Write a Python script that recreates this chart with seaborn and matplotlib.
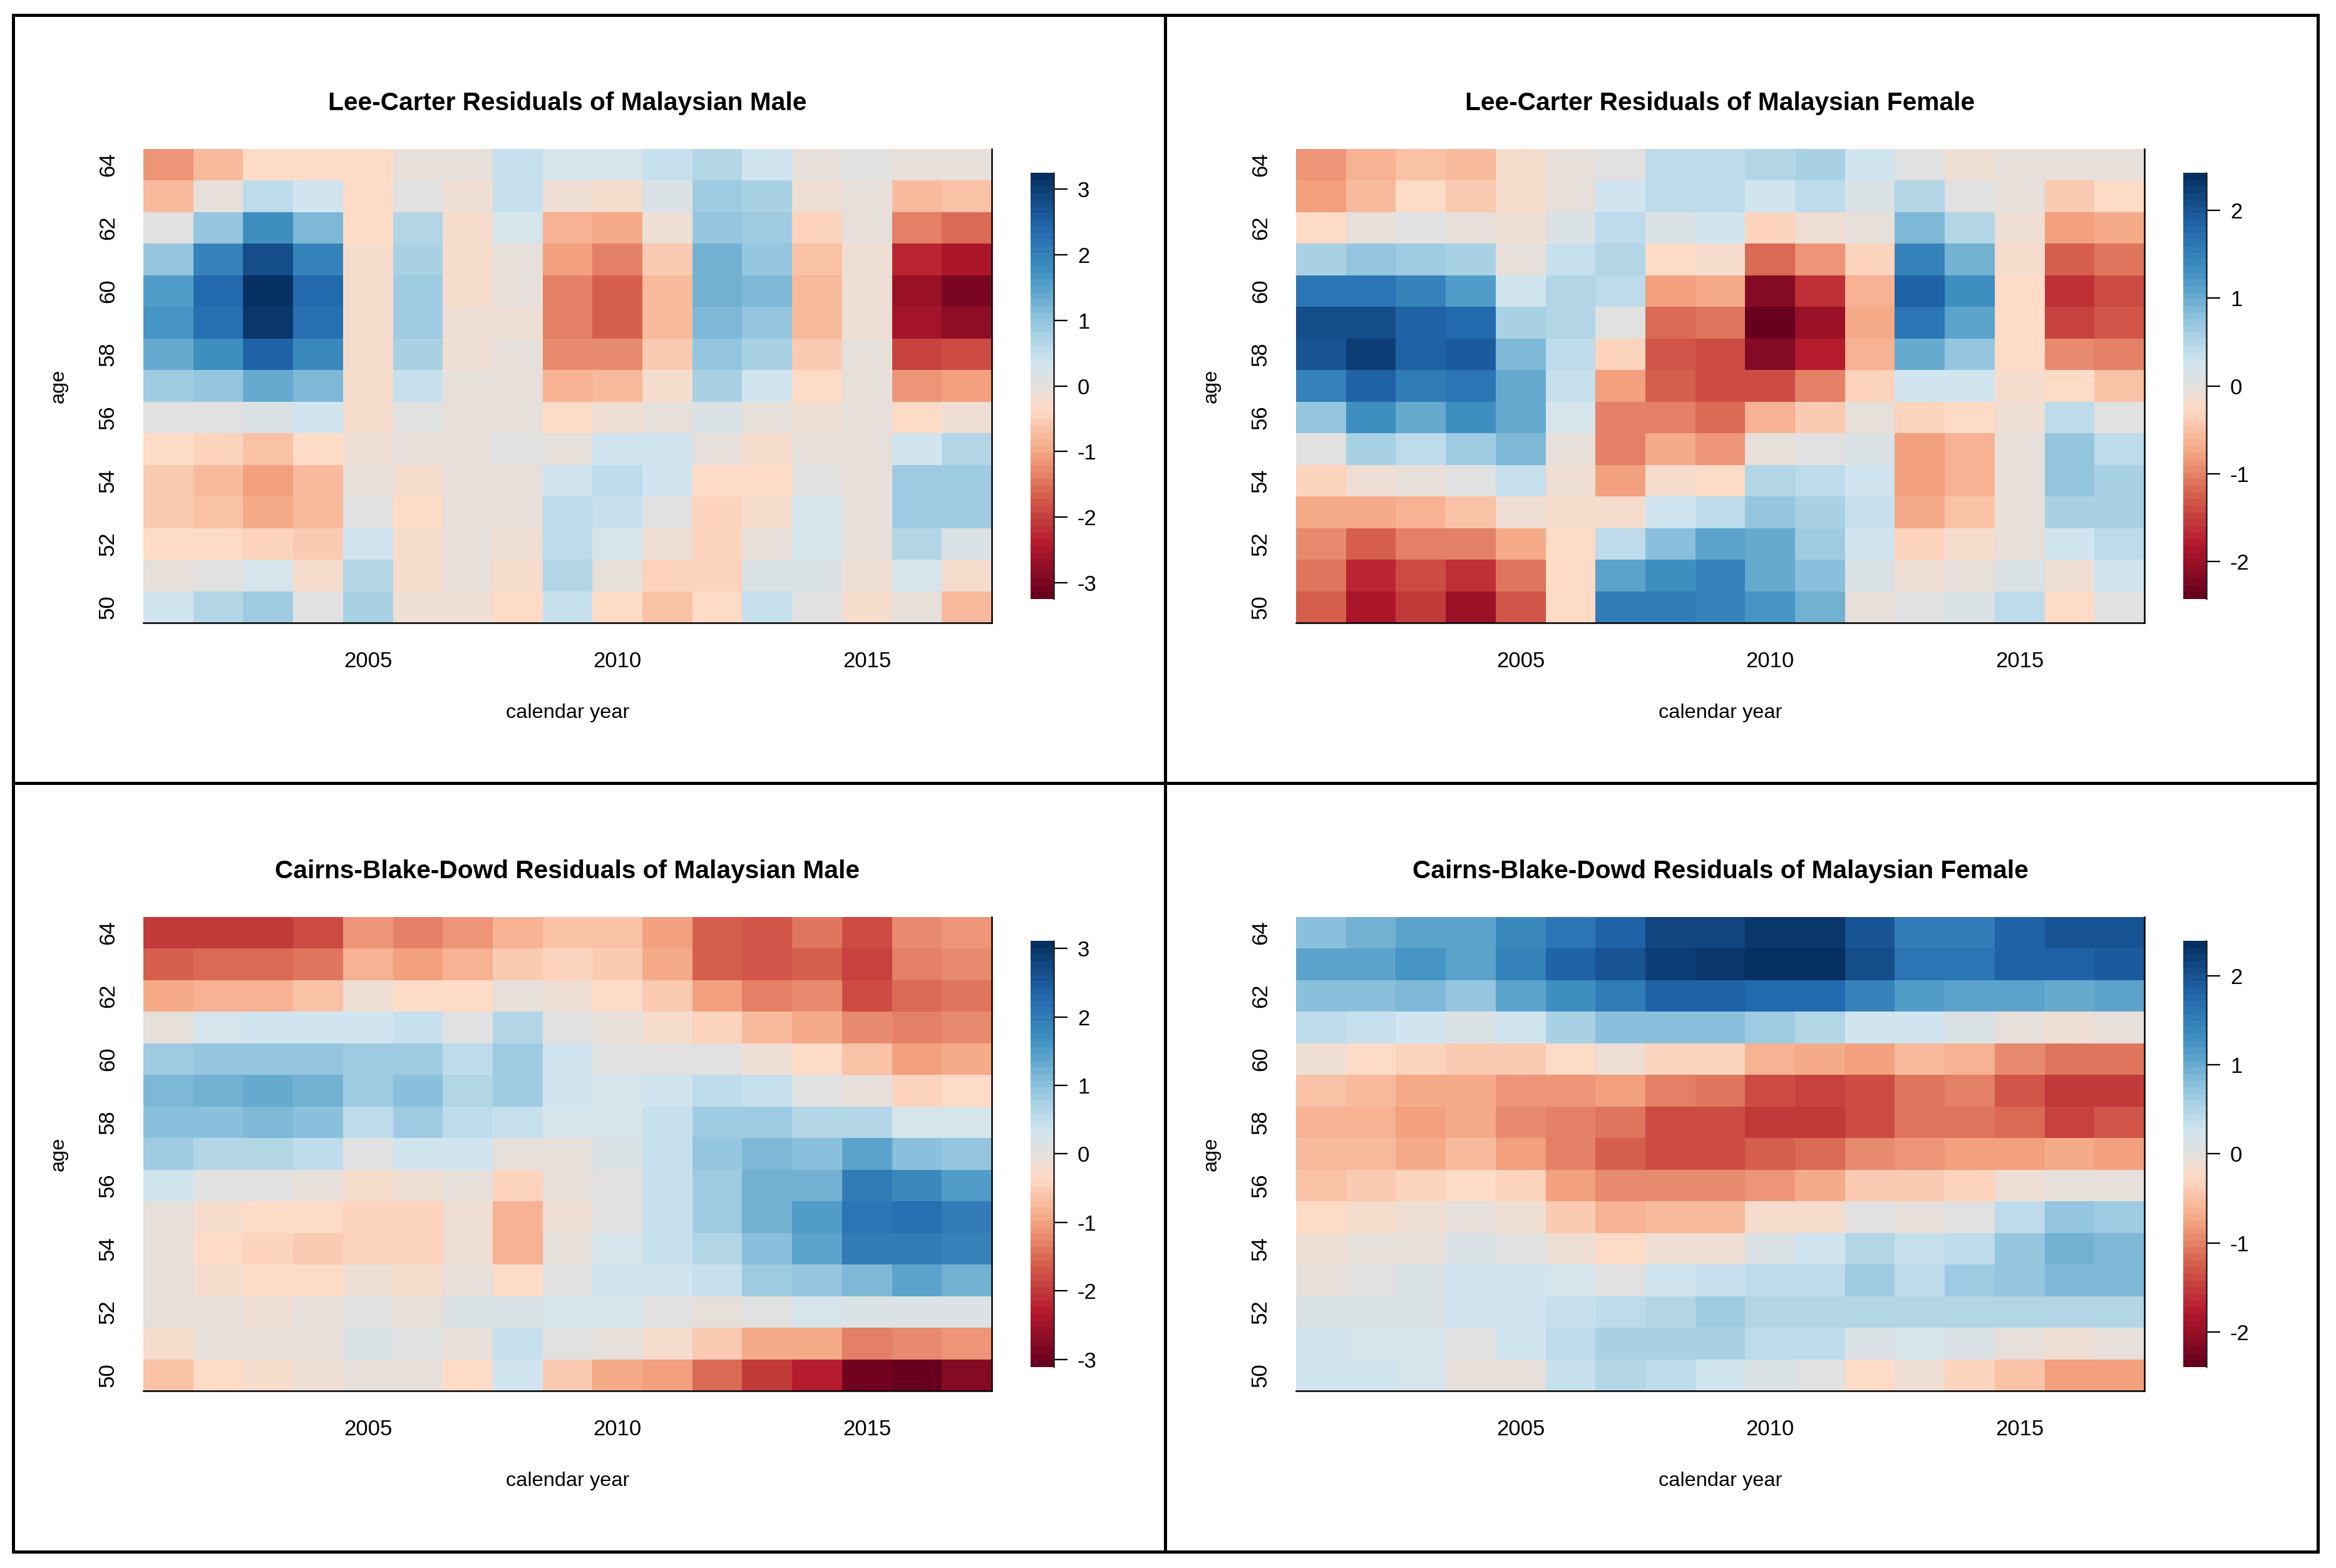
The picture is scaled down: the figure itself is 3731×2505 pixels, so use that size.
import numpy as np
import pandas as pd
import seaborn as sns
import matplotlib.pyplot as plt
from matplotlib.colors import LinearSegmentedColormap
from matplotlib.lines import Line2D

years = list(range(2001, 2018))
ages = list(range(64, 49, -1))  # rows go top to bottom

lc_male = [
    [-1.2, -.8, -.33, -.33, -.33, -.1, -.1, .5, .26, .26, .5, .62, .36, -.05, .06, -.1, -.05],
    [-.8, -.1, .6, .36, -.33, .1, -.12, .5, -.2, -.26, .2, .85, .72, -.2, -.03, -.8, -.65],
    [.1, .95, 1.8, 1.2, -.33, .62, -.22, .25, -.85, -.95, -.2, .95, .9, -.45, -.08, -1.4, -1.55],
    [1.0, 1.95, 2.75, 2.0, -.27, .8, -.22, -.02, -1.1, -1.4, -.55, 1.25, 1.0, -.68, -.2, -2.3, -2.5],
    [1.55, 2.4, 3.25, 2.4, -.27, .9, -.28, -.1, -1.4, -1.65, -.8, 1.3, 1.15, -.8, -.2, -2.65, -3.0],
    [1.7, 2.3, 3.05, 2.3, -.27, .9, -.2, -.2, -1.4, -1.65, -.8, 1.18, .95, -.8, -.2, -2.55, -2.75],
    [1.4, 1.8, 2.45, 1.9, -.27, .8, -.2, -.1, -1.3, -1.3, -.55, .95, .8, -.55, -.08, -1.95, -1.9],
    [.85, 1.0, 1.4, 1.15, -.27, .45, -.08, -.1, -.85, -.8, -.25, .75, .35, -.35, -.03, -1.15, -1.05],
    [.08, .08, .2, .35, -.27, .1, -.03, -.03, -.33, -.18, -.05, .2, -.1, -.18, -.02, -.33, -.18],
    [-.33, -.5, -.65, -.33, -.15, -.1, -.03, .08, -.03, .35, .35, -.1, -.25, -.03, -.03, .38, .7],
    [-.52, -.78, -1.05, -.75, -.08, -.25, -.03, -.03, .35, .6, .35, -.33, -.33, .08, -.03, .82, .9],
    [-.52, -.68, -.98, -.75, .08, -.33, -.03, -.03, .6, .48, .08, -.5, -.23, .25, -.03, .82, .82],
    [-.33, -.33, -.42, -.55, .35, -.28, -.07, -.15, .6, .25, -.18, -.48, -.08, .25, -.08, .62, .2],
    [-.03, .08, .25, -.22, .62, -.27, -.07, -.27, .62, -.1, -.45, -.45, .2, .2, -.2, .23, -.25],
    [.35, .62, .9, .1, .72, -.18, -.18, -.32, .5, -.32, -.62, -.33, .48, .06, -.27, -.1, -.8],
]

lc_female = [
    [-.9, -.65, -.5, -.6, -.2, -.07, .06, .45, .45, .5, .6, .27, .05, -.12, -.05, -.05, -.05],
    [-.82, -.6, -.3, -.38, -.17, -.03, .27, .45, .45, .27, .45, .15, .5, .06, -.06, -.38, -.25],
    [-.25, -.06, .06, -.06, -.12, .15, .4, .15, .27, -.35, -.12, -.03, .9, .52, -.12, -.8, -.72],
    [.57, .72, .68, .57, -.03, .33, .5, -.25, -.17, -1.18, -.85, -.32, 1.5, .95, -.17, -1.25, -1.08],
    [1.65, 1.65, 1.45, 1.2, .27, .5, .45, -.78, -.72, -2.2, -1.6, -.65, 1.85, 1.32, -.25, -1.6, -1.42],
    [2.12, 2.12, 1.85, 1.77, .57, .5, .06, -1.18, -1.08, -2.43, -1.98, -.72, 1.65, 1.12, -.25, -1.48, -1.32],
    [2.05, 2.22, 1.88, 1.9, .85, .42, -.33, -1.32, -1.42, -2.18, -1.75, -.62, 1.02, .72, -.27, -.93, -1.0],
    [1.5, 1.85, 1.58, 1.65, 1.02, .33, -.78, -1.25, -1.42, -1.4, -1.02, -.33, .27, .27, -.17, -.25, -.52],
    [.72, 1.3, 1.0, 1.3, 1.05, .17, -1.03, -1.03, -1.18, -.62, -.42, -.06, -.33, -.27, -.12, .38, .05],
    [.06, .57, .45, .67, .85, -.03, -1.03, -.72, -.87, -.03, .05, .13, -.8, -.65, -.05, .75, .45],
    [-.32, -.12, -.07, .05, .33, -.12, -.8, -.17, -.25, .5, .4, .25, -.8, -.65, -.06, .75, .6],
    [-.72, -.72, -.65, -.52, -.13, -.2, -.2, .3, .38, .75, .6, .33, -.72, -.52, -.03, .6, .6],
    [-.95, -1.27, -1.03, -1.03, -.72, -.25, .38, .82, 1.1, 1.0, .63, .27, -.33, -.17, -.04, .25, .42],
    [-1.08, -1.72, -1.42, -1.6, -1.08, -.25, 1.1, 1.35, 1.5, 1.02, .77, .15, -.08, -.04, .15, -.08, .25],
    [-1.25, -1.85, -1.55, -1.98, -1.33, -.25, 1.55, 1.55, 1.5, 1.28, .98, -.07, .05, .13, .38, -.3, 0.0],
]

cbd_male = [
    [-2.0, -2.0, -2.0, -1.8, -1.15, -1.35, -1.15, -.85, -.65, -.65, -1.0, -1.6, -1.7, -1.45, -1.8, -1.2, -1.12],
    [-1.6, -1.5, -1.5, -1.42, -.78, -1.0, -.85, -.52, -.42, -.55, -.95, -1.6, -1.72, -1.6, -1.88, -1.35, -1.25],
    [-.92, -.78, -.78, -.65, -.18, -.32, -.32, -.05, -.1, -.32, -.58, -1.0, -1.35, -1.25, -1.75, -1.5, -1.42],
    [-.03, .22, .35, .35, .35, .48, .06, .6, .05, -.06, -.22, -.42, -.75, -.92, -1.2, -1.28, -1.2],
    [.8, .95, .95, .95, .78, .85, .55, .85, .38, .05, .07, .07, -.12, -.32, -.62, -1.0, -.9],
    [1.12, 1.22, 1.35, 1.22, .78, 1.0, .68, .78, .35, .22, .35, .55, .45, .06, -.07, -.45, -.33],
    [1.02, 1.02, 1.15, 1.02, .55, .78, .55, .42, .22, .22, .45, .82, .82, .68, .68, .2, .2],
    [.78, .68, .68, .55, .06, .35, .35, -.08, -.07, .12, .45, .88, 1.15, 1.0, 1.4, 1.02, .9],
    [.35, .07, .07, -.03, -.2, -.15, -.03, -.42, -.08, 0.0, .45, .85, 1.25, 1.25, 1.98, 1.8, 1.55],
    [-.03, -.2, -.32, -.32, -.42, -.42, -.13, -.8, -.13, 0.0, .45, .78, 1.25, 1.5, 2.1, 2.2, 1.98],
    [-.06, -.32, -.42, -.52, -.42, -.42, -.13, -.8, -.08, .2, .45, .65, 1.02, 1.4, 2.0, 2.02, 1.9],
    [-.07, -.22, -.32, -.32, -.14, -.2, -.07, -.32, .05, .33, .33, .42, .78, .9, 1.12, 1.38, 1.25],
    [-.06, -.06, -.12, -.07, .08, -.03, .1, .1, .2, .2, .05, -.03, .06, .25, .1, .18, .18],
    [-.22, -.08, -.03, -.03, .18, .07, -.03, .48, .06, -.08, -.2, -.5, -.88, -.88, -1.28, -1.25, -1.1],
    [-.62, -.33, -.2, -.13, -.07, -.07, -.32, .38, -.52, -.92, -1.05, -1.48, -2.0, -2.3, -3.0, -3.11, -2.8],
]

cbd_female = [
    [.8, .92, 1.05, 1.05, 1.38, 1.58, 1.82, 2.12, 2.12, 2.25, 2.25, 1.95, 1.55, 1.55, 1.82, 1.98, 1.98],
    [1.05, 1.12, 1.2, 1.05, 1.48, 1.8, 1.98, 2.22, 2.28, 2.38, 2.38, 2.08, 1.62, 1.58, 1.82, 1.82, 1.9],
    [.75, .75, .85, .72, 1.12, 1.3, 1.55, 1.82, 1.82, 1.75, 1.75, 1.42, 1.18, 1.05, 1.05, 1.0, 1.05],
    [.4, .32, .25, .13, .27, .57, .78, .78, .78, .62, .52, .25, .25, .12, -.02, -.14, -.04],
    [-.1, -.24, -.33, -.4, -.4, -.25, -.1, -.33, -.33, -.62, -.7, -.75, -.58, -.62, -.92, -1.05, -1.05],
    [-.45, -.58, -.7, -.7, -.85, -.85, -.75, -1.0, -1.05, -1.38, -1.45, -1.35, -1.05, -1.0, -1.3, -1.55, -1.55],
    [-.62, -.62, -.75, -.7, -.92, -1.0, -1.05, -1.38, -1.38, -1.5, -1.5, -1.38, -1.05, -1.05, -1.18, -1.42, -1.32],
    [-.58, -.58, -.7, -.58, -.78, -.98, -1.25, -1.35, -1.35, -1.25, -1.15, -.92, -.88, -.78, -.78, -.72, -.78],
    [-.5, -.38, -.3, -.24, -.36, -.75, -.97, -.97, -.97, -.85, -.72, -.42, -.42, -.33, -.1, -.01, -.04],
    [-.24, -.17, -.12, -.04, -.1, -.38, -.65, -.58, -.58, -.15, -.15, .04, -.04, .04, .4, .72, .6],
    [-.12, -.05, -.03, .14, .07, -.12, -.24, -.1, -.1, .12, .25, .5, .3, .42, .7, .93, .85],
    [-.02, .03, .14, .25, .25, .15, .03, .25, .33, .42, .42, .6, .42, .6, .7, .85, .85],
    [.14, .14, .14, .25, .25, .33, .43, .5, .6, .5, .5, .5, .5, .5, .5, .5, .5],
    [.25, .16, .16, .03, .25, .43, .58, .58, .58, .42, .42, .12, .2, .12, -.02, -.14, -.04],
    [.25, .25, .17, -.05, -.01, .33, .5, .42, .25, .13, .03, -.25, -.14, -.32, -.52, -.78, -.78],
]

titles = ["Lee-Carter Residuals of Malaysian Male", "Lee-Carter Residuals of Malaysian Female",
          "Cairns-Blake-Dowd Residuals of Malaysian Male", "Cairns-Blake-Dowd Residuals of Malaysian Female"]
limits = [3.25, 2.43, 3.11, 2.39]
cbar_ticks = [[-3, -2, -1, 0, 1, 2, 3], [-2, -1, 0, 1, 2], [-3, -2, -1, 0, 1, 2, 3], [-2, -1, 0, 1, 2]]
year_ticks = [2005, 2010, 2015]
age_ticks = [64, 62, 60, 58, 56, 54, 52, 50]

W, H = 3731, 2505
DX, DY = 1841, 1227

sns.set_style("white")
plt.rcParams['font.family'] = ['Liberation Sans', 'DejaVu Sans']
plt.rcParams['axes.unicode_minus'] = False
plt.rcParams['text.color'] = "black"
plt.rcParams['axes.labelcolor'] = "black"

# RdBu with a greyish middle, 64 steps like the original ramp
nodes = [0, .12, .24, .34, .445, .5, .555, .655, .765, .88, 1]
cols = ["#67001f", "#b2182b", "#d6604d", "#f4a582", "#fddbc7", "#e2e0dd",
        "#d1e5f0", "#92c5de", "#4393c3", "#2166ac", "#053061"]
cmap = LinearSegmentedColormap.from_list("rdbu_grey", list(zip(nodes, cols)), N=64)


def px_axes(fig, x0, y0, x1, y1):
    return fig.add_axes([x0 / W, 1 - y1 / H, (x1 - x0) / W, (y1 - y0) / H])


def draw_panel(fig, data, title, lim, ticks, col, row):
    ox, oy = col * DX, row * DY
    ax = px_axes(fig, 229 + ox, 238 + oy, 1584 + ox, 995 + oy)
    cax = px_axes(fig, 1646 + ox, 276 + oy, 1683 + ox, 957 + oy)
    df = pd.DataFrame(data, index=ages, columns=years)
    sns.heatmap(df, ax=ax, cbar_ax=cax, cmap=cmap, vmin=-lim, vmax=lim)

    ax.set_xticks([years.index(y) + .5 for y in year_ticks])
    ax.set_xticklabels(year_ticks, rotation=0)
    ax.set_yticks([ages.index(a) + .5 for a in age_ticks])
    ax.set_yticklabels(age_ticks, rotation=90, va="center")
    ax.tick_params(axis="both", length=4.6, width=.55, pad=6.2, labelsize=8.3, color="black", labelcolor="black")
    ax.tick_params(axis="y", pad=5)

    for side in ["top", "left"]:
        ax.spines[side].set_visible(False)
    for side in ["bottom", "right"]:
        ax.spines[side].set_visible(True)
        ax.spines[side].set_linewidth(.6)
        ax.spines[side].set_color("black")

    ax.set_title(title, fontsize=9.76, fontweight="bold", y=1 + 73 / 757, va="center", pad=0)
    ax.set_xlabel("calendar year", fontsize=7.8)
    ax.set_ylabel("age", fontsize=7.8)
    ax.xaxis.set_label_coords(.5, -129 / 757)
    ax.yaxis.set_label_coords(-120 / 1355, .5)

    cax.set_yticks(ticks)
    cax.set_yticklabels([str(t) for t in ticks])
    cax.tick_params(axis="y", length=5.3, width=.55, pad=3.8, labelsize=8.3, color="black", labelcolor="black", right=True)
    cax.axvline(1, color="#222222", lw=.6, clip_on=False)


fig = plt.figure(figsize=(W / 300, H / 300), dpi=300)

draw_panel(fig, lc_male, titles[0], limits[0], cbar_ticks[0], 0, 0)
draw_panel(fig, lc_female, titles[1], limits[1], cbar_ticks[1], 1, 0)
draw_panel(fig, cbd_male, titles[2], limits[2], cbar_ticks[2], 0, 1)
draw_panel(fig, cbd_female, titles[3], limits[3], cbar_ticks[3], 1, 1)

# outer frame and the cross between the panels
left, right, top, bottom, midx, midy = 20.5, 3701.5, 23.5, 2478.5, 1860.5, 1250.5
for x0, y0, x1, y1 in [(left, top, right, top), (left, bottom, right, bottom), (left, top, left, bottom),
                       (right, top, right, bottom), (midx, top, midx, bottom), (left, midy, right, midy)]:
    fig.add_artist(Line2D([x0 / W, x1 / W], [1 - y0 / H, 1 - y1 / H], color="black", lw=1.2,
                          solid_capstyle="projecting"))

fig.savefig("out.png", dpi=300)
